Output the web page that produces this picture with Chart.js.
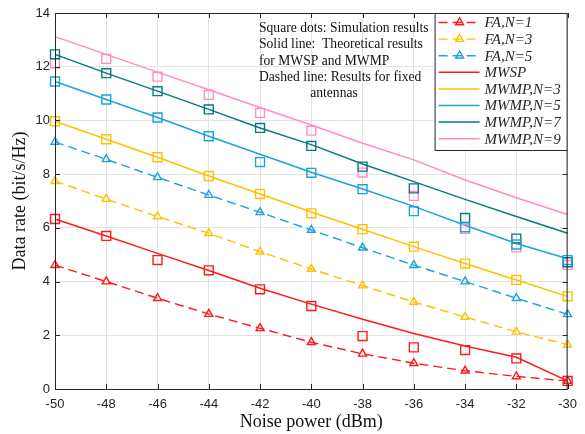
<!DOCTYPE html>
<html>
<head>
<meta charset="utf-8">
<script src="https://cdn.jsdelivr.net/npm/chart.js@4.4.1/dist/chart.umd.min.js"></script>
<style>
  html, body { margin: 0; padding: 0; background: #fff; }
</style>
</head>
<body>
<canvas id="rateChart" width="585" height="434"></canvas>
<script>
// noise power sweep (dBm)
const noisePower = [-50, -48, -46, -44, -42, -40, -38, -36, -34, -32, -30];

// fixed antennas
const faN1 = [4.61, 4.00, 3.38, 2.79, 2.26, 1.74, 1.31, 0.96, 0.68, 0.47, 0.30];
const faN3 = [7.74, 7.07, 6.42, 5.80, 5.11, 4.47, 3.85, 3.24, 2.68, 2.13, 1.65];
const faN5 = [9.20, 8.55, 7.88, 7.22, 6.58, 5.92, 5.26, 4.61, 4.00, 3.38, 2.78];

// theory curves
const mwspTheory = [6.33, 5.70, 5.05, 4.41, 3.75, 3.16, 2.60, 2.07, 1.60, 1.18, 0.30];
const mwmp3Theory = [9.97, 9.30, 8.63, 7.93, 7.26, 6.59, 5.95, 5.30, 4.67, 4.06, 3.45];
const mwmp5Theory = [11.45, 10.78, 10.11, 9.41, 8.74, 8.07, 7.45, 6.80, 6.10, 5.42, 4.85];
const mwmp7Theory = [12.46, 11.76, 11.09, 10.41, 9.72, 9.10, 8.38, 7.72, 7.06, 6.42, 5.80];
const mwmp9Theory = [13.12, 12.46, 11.80, 11.14, 10.48, 9.83, 9.15, 8.53, 7.78, 7.12, 6.50];

// simulation points
const mwspSim = [6.33, 5.70, 4.80, 4.42, 3.71, 3.09, 1.97, 1.55, 1.45, 1.14, 0.30];
const mwmp3Sim = [9.97, 9.30, 8.63, 7.93, 7.26, 6.54, 5.95, 5.30, 4.67, 4.06, 3.45];
const mwmp5Sim = [11.45, 10.78, 10.11, 9.41, 8.45, 8.05, 7.44, 6.62, 6.02, 5.38, 4.80];
const mwmp7Sim = [12.46, 11.76, 11.09, 10.41, 9.72, 9.05, 8.28, 7.47, 6.37, 5.60, 4.72];
const mwmp9Sim = [12.13, 12.29, 11.63, 10.95, 10.28, 9.62, 8.06, 7.19, 5.96, 5.27, 4.62];

const noteLines = [
    'Square dots: Simulation results',
    'Solid line:  Theoretical results',
    'for MWSP and MWMP',
    'Dashed line: Results for fixed',
    'antennas',
];

const RED = '#ff1a1a';
const YELLOW = '#ffc000';
const BLUE = '#1ba3dc';
const TEAL = '#057a80';
const PINK = '#ff8cc8';
const INK = '#262626';

function pts(vals) {
    return vals.map((v, i) => ({x: noisePower[i], y: v}));
}

function faSet(label, vals, color) {
    return {
        label, data: pts(vals), inLegend: true,
        borderColor: color, backgroundColor: 'transparent',
        borderWidth: 1.4, borderDash: [9, 5],
        pointStyle: 'triangle', pointRadius: 4.6, pointBorderWidth: 1.4,
        pointBorderColor: color, pointBackgroundColor: 'transparent',
        order: 2,
    };
}

function theorySet(label, vals, color) {
    return {
        label, data: pts(vals), inLegend: true,
        borderColor: color, backgroundColor: 'transparent',
        borderWidth: 1.5, pointRadius: 0,
        order: 3,
    };
}

function simSet(label, vals, color) {
    return {
        label, data: pts(vals), showLine: false,
        borderColor: color, backgroundColor: 'transparent',
        pointStyle: 'rect', pointRadius: 6.3, pointBorderWidth: 1.4,
        pointBorderColor: color, pointBackgroundColor: 'transparent',
        order: 1,
    };
}

const datasets = [
    faSet('FA,N=1', faN1, RED),
    faSet('FA,N=3', faN3, YELLOW),
    faSet('FA,N=5', faN5, BLUE),
    theorySet('MWSP', mwspTheory, RED),
    theorySet('MWMP,N=3', mwmp3Theory, YELLOW),
    theorySet('MWMP,N=5', mwmp5Theory, BLUE),
    theorySet('MWMP,N=7', mwmp7Theory, TEAL),
    theorySet('MWMP,N=9', mwmp9Theory, PINK),
    simSet('MWSP sim', mwspSim, RED),
    simSet('MWMP,N=3 sim', mwmp3Sim, YELLOW),
    simSet('MWMP,N=5 sim', mwmp5Sim, BLUE),
    simSet('MWMP,N=7 sim', mwmp7Sim, TEAL),
    simSet('MWMP,N=9 sim', mwmp9Sim, PINK),
];

// note text block, grid shows through it
const notePlugin = {
    id: 'notePlugin',
    beforeDatasetsDraw(chart) {
        const {ctx, chartArea} = chart;
        ctx.save();
        ctx.fillStyle = '#111';
        ctx.font = '13.6px "Liberation Serif", "Times New Roman", serif';
        ctx.textBaseline = 'middle';
        const x0 = chartArea.left + 204;
        noteLines.forEach((t, i) => {
            const y = chartArea.top + 15.5 + i * 16.3;
            if (i === noteLines.length - 1) {
                ctx.textAlign = 'center';
                ctx.fillText(t, x0 + 75, y);
            } else {
                ctx.textAlign = 'left';
                ctx.fillText(t, x0, y);
            }
        });
        ctx.restore();
    }
};

// full box with inward ticks
const frame = {
    id: 'frame',
    afterDatasetsDraw(chart) {
        const {ctx, chartArea: a, scales} = chart;
        ctx.save();
        ctx.strokeStyle = INK;
        ctx.lineWidth = 1;
        ctx.strokeRect(a.left + 0.5, a.top + 0.5, a.right - a.left - 1, a.bottom - a.top);
        ctx.beginPath();
        scales.x.ticks.forEach(t => {
            const px = Math.round(scales.x.getPixelForValue(t.value)) + 0.5;
            ctx.moveTo(px, a.bottom); ctx.lineTo(px, a.bottom - 5);
            ctx.moveTo(px, a.top); ctx.lineTo(px, a.top + 5);
        });
        scales.y.ticks.forEach(t => {
            const py = Math.round(scales.y.getPixelForValue(t.value)) + 0.5;
            ctx.moveTo(a.left, py); ctx.lineTo(a.left + 5, py);
            ctx.moveTo(a.right, py); ctx.lineTo(a.right - 5, py);
        });
        ctx.stroke();
        ctx.restore();
    }
};

// legend box in the upper right corner
const boxLegend = {
    id: 'boxLegend',
    afterDraw(chart) {
        const {ctx, chartArea: a} = chart;
        const items = chart.data.datasets.filter(d => d.inLegend);
        const w = 133, h = 137;
        const left = a.right - w, top = a.top;
        ctx.save();
        ctx.fillStyle = '#fff';
        ctx.fillRect(left, top, w, h);
        ctx.strokeStyle = INK;
        ctx.lineWidth = 1;
        ctx.strokeRect(left + 0.5, top + 0.5, w - 1, h);
        ctx.font = 'italic 15px "Liberation Serif", "Times New Roman", serif';
        ctx.textBaseline = 'middle';
        items.forEach((d, i) => {
            const y = top + 9.5 + i * 16.6;
            ctx.strokeStyle = d.borderColor;
            ctx.lineWidth = d.borderWidth;
            ctx.setLineDash(d.borderDash || []);
            ctx.beginPath();
            ctx.moveTo(left + 4, y);
            ctx.lineTo(left + 45, y);
            ctx.stroke();
            ctx.setLineDash([]);
            if (d.pointRadius > 0) {
                ctx.lineWidth = d.pointBorderWidth;
                ctx.strokeStyle = d.pointBorderColor;
                ctx.fillStyle = 'rgba(0,0,0,0)';
                Chart.helpers.drawPoint(ctx, {
                    pointStyle: d.pointStyle, radius: d.pointRadius,
                    borderWidth: d.pointBorderWidth, rotation: 0,
                }, left + 25, y);
            }
            ctx.fillStyle = INK;
            ctx.textAlign = 'left';
            ctx.fillText(d.label, left + 50, y + 1);
        });
        ctx.restore();
    }
};

new Chart(document.getElementById('rateChart'), {
    type: 'line',
    data: {datasets},
    options: {
        responsive: false,
        animation: false,
        clip: false,
        layout: {padding: {left: 0, right: 12, top: 13, bottom: 0}},
        plugins: {
            legend: {display: false},
            tooltip: {enabled: false},
        },
        scales: {
            x: {
                type: 'linear', min: -50, max: -30,
                afterFit: s => { s.height = 45; },
                ticks: {
                    stepSize: 2, color: INK, padding: 8,
                    font: {family: '"Liberation Sans", Arial, sans-serif', size: 13},
                },
                grid: {color: '#e3e3e3', drawTicks: false},
                border: {display: false},
                title: {
                    display: true, text: 'Noise power (dBm)', color: '#111',
                    font: {family: '"Liberation Serif", "Times New Roman", serif', size: 18},
                    padding: {top: 0, bottom: 1},
                },
            },
            y: {
                min: 0, max: 14,
                afterFit: s => { s.width = 55; },
                ticks: {
                    stepSize: 2, color: INK, padding: 5,
                    font: {family: '"Liberation Sans", Arial, sans-serif', size: 13},
                },
                grid: {color: '#e3e3e3', drawTicks: false},
                border: {display: false},
                title: {
                    display: true, text: 'Data rate (bit/s/Hz)', color: '#111',
                    font: {family: '"Liberation Serif", "Times New Roman", serif', size: 18},
                    padding: {top: 9, bottom: 0},
                },
            },
        },
    },
    plugins: [notePlugin, frame, boxLegend],
});
</script>
</body>
</html>
